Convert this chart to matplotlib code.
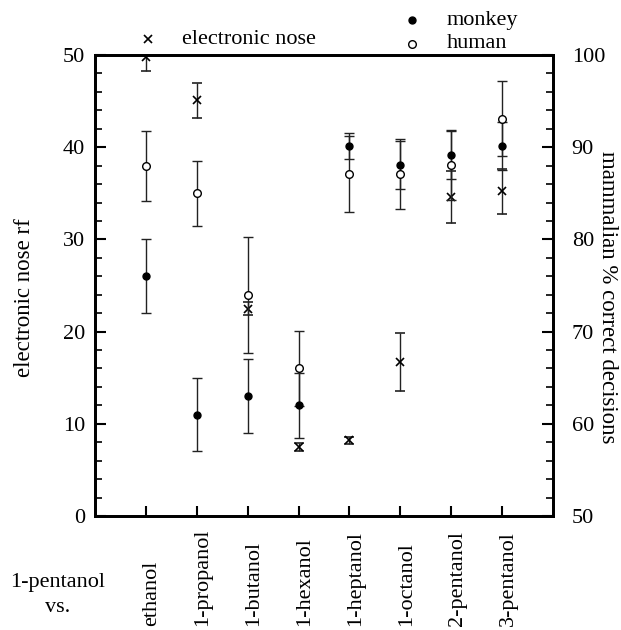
import matplotlib.pyplot as plt
import numpy as np
from matplotlib.ticker import MultipleLocator

plt.rcParams['font.family'] = 'Liberation Serif'

# data
compounds = ["ethanol", "1-propanol", "1-butanol", "1-hexanol",
             "1-heptanol", "1-octanol", "2-pentanol", "3-pentanol"]
enose = [49.8, 45.1, 22.5, 7.5, 8.2, 16.7, 34.6, 35.2]
enose_err = [1.5, 1.9, 0.7, 0.4, 0.4, 3.1, 2.8, 2.4]
monkey = [76.0, 61.0, 63.0, 62.0, 90.1, 88.1, 89.2, 90.1]
monkey_err = [4.0, 4.0, 4.0, 3.5, 1.4, 2.6, 2.6, 2.6]
human = [88.0, 85.0, 74.0, 66.0, 87.1, 87.1, 88.1, 93.1]
human_err = [3.8, 3.5, 6.3, 4.1, 4.1, 3.8, 3.8, 4.1]

x = np.arange(1, len(compounds) + 1)
fs = 16

fig = plt.figure(figsize=(6.21, 6.30), dpi=100)
ax = fig.add_axes([95/621, 1 - 516/630, 458/621, 461/630])
ax2 = ax.twinx()

# electronic nose on the left axis
ax.errorbar(x, enose, yerr=enose_err, fmt='x', color='black', ms=6, mew=1.2,
            ecolor='#222222', elinewidth=1, capsize=3.5, capthick=1)

# mammals on the right axis
ax2.errorbar(x, human, yerr=human_err, fmt='o', mfc='white', mec='black', ms=5.5, mew=1,
             ecolor='#222222', elinewidth=1, capsize=3.5, capthick=1)
ax2.errorbar(x, monkey, yerr=monkey_err, fmt='o', color='black', ms=5,
             ecolor='#222222', elinewidth=1, capsize=3.5, capthick=1)

ax.set_xlim(0, 9)
ax.set_ylim(0, 50)
ax2.set_ylim(50, 100)

for a in (ax, ax2):
    for s in a.spines.values():
        s.set_linewidth(2)
    a.yaxis.set_major_locator(MultipleLocator(10))
    a.yaxis.set_minor_locator(MultipleLocator(2))

ax.set_xticks(x)
ax.set_xticklabels([])
ax.tick_params(axis='x', direction='in', length=7, width=1.5, top=False)
ax.tick_params(axis='y', which='major', direction='in', length=8, width=1.5,
               labelsize=fs, pad=7, right=False)
ax.tick_params(axis='y', which='minor', direction='in', length=5, width=1.2, right=False)
ax2.tick_params(axis='y', which='major', direction='in', length=8, width=1.5,
                labelsize=fs, pad=13.5)
ax2.tick_params(axis='y', which='minor', direction='in', length=5, width=1.2)

ax.set_ylabel("electronic nose rf", fontsize=16.5)
ax.yaxis.set_label_coords(-0.131, 0.473)
ax2.set_ylabel("mammalian % correct decisions", fontsize=16.5, rotation=270, va='center')
ax2.yaxis.set_label_coords(1.118, 0.475)

# category labels, bottom aligned
for xi, name in zip(x, compounds):
    ax.text(xi + 0.12, -0.238, name, transform=ax.get_xaxis_transform(),
            rotation=90, ha='center', va='bottom', fontsize=fs)

fig.text(58/621, 1 - 583/630, "1-pentanol", ha='center', va='center', fontsize=fs)
fig.text(58/621, 1 - 607/630, "vs.", ha='center', va='center', fontsize=fs)

# legend drawn by hand
ax.plot([148/621], [1 - 39/630], 'x', color='black', ms=6, mew=1.2,
        transform=fig.transFigure, clip_on=False)
fig.text(182/621, 1 - 39/630, "electronic nose", ha='left', va='center', fontsize=fs)
ax.plot([412/621], [1 - 20/630], 'o', color='black', ms=5,
        transform=fig.transFigure, clip_on=False)
fig.text(447/621, 1 - 20/630, "monkey", ha='left', va='center', fontsize=fs)
ax.plot([412/621], [1 - 44/630], 'o', mfc='white', mec='black', ms=5.5, mew=1,
        transform=fig.transFigure, clip_on=False)
fig.text(447/621, 1 - 44/630, "human", ha='left', va='center', fontsize=fs)

fig.savefig("out.png", dpi=100)
